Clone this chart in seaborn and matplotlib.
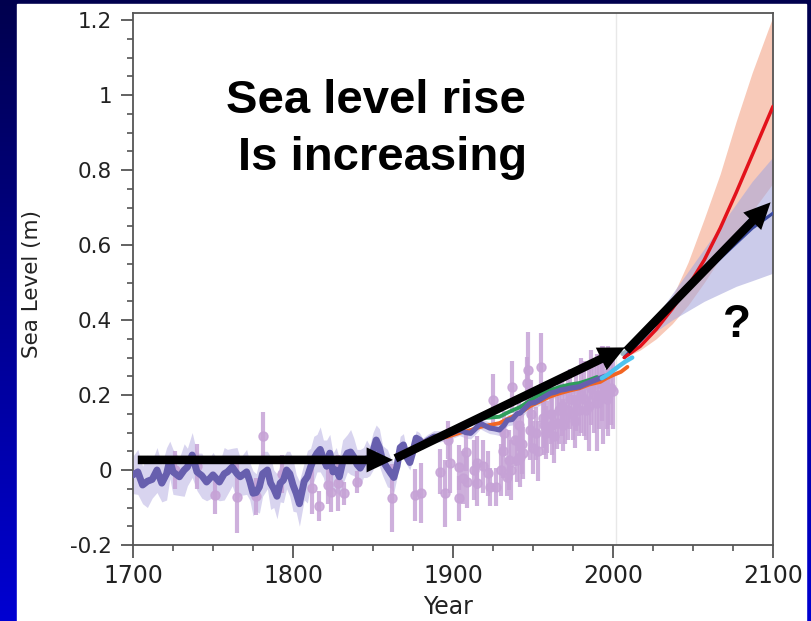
import numpy as np
import pandas as pd
import matplotlib
matplotlib.use("Agg")
import matplotlib.pyplot as plt
import seaborn as sns
from matplotlib.colors import LinearSegmentedColormap
from matplotlib.patches import Rectangle
from matplotlib.ticker import MultipleLocator

# ---------------- data ----------------
recon_years = [1700, 1703, 1706, 1709, 1712, 1715, 1718, 1721, 1723, 1725,
               1729, 1732, 1734, 1737, 1740, 1743, 1746, 1750, 1754, 1757,
               1759, 1762, 1765, 1767, 1771, 1773, 1775, 1777, 1779, 1781,
               1784, 1786, 1788, 1790, 1792, 1794, 1796, 1798, 1800, 1802,
               1804, 1807, 1809, 1811, 1813, 1815, 1817, 1819, 1821, 1823,
               1825, 1827, 1829, 1831, 1834, 1836, 1838, 1840, 1842, 1844,
               1846, 1848, 1850, 1852, 1854, 1856, 1859, 1861, 1863, 1865,
               1867, 1869, 1871, 1873, 1875, 1877, 1879, 1881, 1884, 1888,
               1892, 1896, 1900, 1904, 1908, 1911, 1914, 1917, 1920, 1923,
               1926, 1929, 1932, 1934, 1937, 1940, 1942, 1945, 1948, 1951,
               1954, 1957, 1961, 1964, 1967, 1970, 1973, 1976, 1979, 1982,
               1986, 1989, 1992, 1995]
recon_vals = [-0.013, -0.005, -0.04, -0.03, -0.025, 0.0, -0.035, -0.01, 0.027, -0.005,
              -0.018, 0.0, 0.008, 0.04, -0.005, -0.015, -0.032, -0.013, -0.032, -0.01,
              -0.005, 0.008, -0.01, -0.018, -0.005, -0.03, -0.062, -0.06, -0.045, -0.01,
              0.0, -0.035, -0.05, -0.07, -0.035, -0.027, 0.0, -0.01, -0.04, -0.062,
              -0.09, -0.03, -0.018, 0.008, 0.03, 0.045, 0.055, 0.03, 0.01, 0.045,
              -0.005, 0.0, -0.018, 0.02, 0.045, 0.048, 0.035, 0.015, 0.005, 0.02,
              0.03, 0.025, 0.05, 0.08, 0.06, 0.025, 0.005, -0.008, -0.02, 0.01,
              0.06, 0.067, 0.035, 0.02, 0.05, 0.085, 0.08, 0.07, 0.08, 0.09,
              0.09, 0.095, 0.1, 0.107, 0.1, 0.098, 0.11, 0.125, 0.118, 0.112,
              0.11, 0.107, 0.12, 0.133, 0.135, 0.15, 0.152, 0.165, 0.178, 0.18,
              0.187, 0.195, 0.205, 0.208, 0.213, 0.215, 0.218, 0.22, 0.222, 0.228,
              0.235, 0.24, 0.245, 0.25]
recon_halfwidth = [0.05, 0.06, 0.05, 0.07, 0.05, 0.06, 0.05, 0.07, 0.05, 0.06,
                   0.05, 0.07, 0.05, 0.06, 0.05, 0.06, 0.05, 0.06, 0.05, 0.07,
                   0.06, 0.05, 0.07, 0.05, 0.06, 0.05, 0.06, 0.05, 0.07, 0.06,
                   0.05, 0.07, 0.05, 0.06, 0.05, 0.06, 0.05, 0.06, 0.07, 0.05,
                   0.06, 0.05, 0.07, 0.05, 0.06, 0.05, 0.06, 0.05, 0.07, 0.05,
                   0.05, 0.06, 0.05, 0.06, 0.05, 0.06, 0.05, 0.04, 0.05, 0.04,
                   0.05, 0.04, 0.05, 0.04, 0.05, 0.04, 0.05, 0.04, 0.04, 0.03,
                   0.03, 0.03, 0.02, 0.02, 0.02, 0.02, 0.02, 0.015, 0.015, 0.015,
                   0.015, 0.015, 0.015, 0.015, 0.015, 0.015, 0.015, 0.015, 0.015, 0.015,
                   0.015, 0.015, 0.015, 0.015, 0.015, 0.015, 0.015, 0.015, 0.015, 0.015,
                   0.015, 0.015, 0.015, 0.015, 0.015, 0.015, 0.015, 0.015, 0.015, 0.015,
                   0.015, 0.015, 0.015, 0.015]

orange_years = [1880, 1890, 1896, 1905, 1910, 1917, 1923, 1929, 1935, 1942, 1948,
                1954, 1960, 1967, 1973, 1979, 1985, 1992, 1996, 2000, 2005, 2009]
orange_vals = [0.075, 0.085, 0.088, 0.1, 0.105, 0.115, 0.12, 0.125, 0.138, 0.152, 0.17,
               0.182, 0.195, 0.205, 0.212, 0.218, 0.228, 0.235, 0.245, 0.253, 0.262, 0.275]

green_years = [1900, 1904, 1910, 1917, 1923, 1929, 1935, 1942, 1948, 1954, 1960,
               1967, 1973, 1979, 1985, 1990]
green_vals = [0.105, 0.115, 0.125, 0.138, 0.14, 0.142, 0.155, 0.168, 0.185, 0.2, 0.212,
              0.222, 0.228, 0.232, 0.24, 0.248]

cyan_years = [1993, 1997, 2000, 2004, 2008, 2012]
cyan_vals = [0.245, 0.255, 0.265, 0.278, 0.29, 0.30]

grey_years = [2006, 2012]
grey_vals = [0.31, 0.325]

pts_years = [1726, 1740, 1751, 1765, 1777, 1781, 1793, 1812, 1816, 1822,
             1824, 1828, 1832, 1840, 1862, 1876, 1880, 1892, 1895, 1897,
             1904, 1904, 1908, 1909, 1915, 1915, 1922, 1923, 1925, 1927,
             1930, 1932, 1934, 1935, 1937, 1939, 1940, 1942, 1944, 1946,
             1947, 1948, 1950, 1952, 1955, 1957, 1959, 1961, 1963, 1965,
             1968, 1970, 1972, 1975, 1977, 1979, 1982, 1985, 1988, 1990,
             1994, 1997, 2000,
             1898, 1906, 1913, 1919, 1931, 1936, 1941, 1943, 1949, 1953,
             1956, 1958, 1962, 1966, 1969, 1973, 1976, 1980, 1983, 1986,
             1991, 1993, 1996, 1999]
pts_vals = [0.0, 0.01, -0.067, -0.072, -0.07, 0.09, -0.01, -0.048, -0.095, -0.04,
            -0.058, -0.035, -0.062, -0.032, -0.075, -0.067, -0.062, -0.005, -0.062, 0.08,
            -0.075, 0.008, 0.048, -0.032, 0.02, -0.035, -0.008, -0.045, 0.187, -0.045,
            0.0, 0.098, -0.018, 0.027, 0.222, 0.08, 0.027, 0.035, 0.045, 0.232,
            0.267, 0.107, 0.06, 0.098, 0.275, 0.12, 0.115, 0.15, 0.09, 0.125,
            0.17, 0.14, 0.16, 0.15, 0.185, 0.16, 0.19, 0.17, 0.2, 0.18,
            0.2, 0.21, 0.21,
            0.02, -0.02, 0.0, 0.01, 0.05, 0.0, 0.12, 0.07, 0.15, 0.05,
            0.14, 0.1, 0.12, 0.16, 0.12, 0.19, 0.13, 0.2, 0.16, 0.22,
            0.2, 0.23, 0.19, 0.22]
pts_errs = [0.05, 0.06, 0.05, 0.095, 0.05, 0.065, 0.05, 0.07, 0.04, 0.05,
            0.055, 0.075, 0.03, 0.03, 0.09, 0.07, 0.08, 0.06, 0.09, 0.05,
            0.06, 0.06, 0.05, 0.07, 0.07, 0.06, 0.06, 0.05, 0.07, 0.05,
            0.07, 0.06, 0.05, 0.08, 0.07, 0.07, 0.06, 0.08, 0.07, 0.07,
            0.1, 0.08, 0.07, 0.07, 0.09, 0.08, 0.07, 0.08, 0.07, 0.07,
            0.08, 0.07, 0.08, 0.07, 0.08, 0.07, 0.1, 0.12, 0.1, 0.13,
            0.13, 0.12, 0.1,
            0.08, 0.07, 0.08, 0.07, 0.07, 0.08, 0.07, 0.08, 0.09, 0.08,
            0.08, 0.07, 0.08, 0.09, 0.07, 0.08, 0.07, 0.1, 0.08, 0.1,
            0.09, 0.1, 0.08, 0.1]

proj_years = [2007, 2017, 2027, 2037, 2047, 2057, 2067, 2077, 2087, 2100]
red_mid = [0.30, 0.33, 0.375, 0.43, 0.49, 0.56, 0.645, 0.74, 0.84, 0.97]
red_hi = [0.30, 0.33, 0.385, 0.46, 0.555, 0.67, 0.79, 0.93, 1.06, 1.21]
red_lo = [0.30, 0.32, 0.35, 0.39, 0.44, 0.50, 0.565, 0.63, 0.69, 0.765]
blue_mid = [0.30, 0.345, 0.39, 0.44, 0.485, 0.525, 0.565, 0.605, 0.645, 0.685]
blue_hi = [0.30, 0.355, 0.41, 0.47, 0.53, 0.59, 0.65, 0.71, 0.77, 0.835]
blue_lo = [0.30, 0.335, 0.37, 0.40, 0.425, 0.45, 0.47, 0.49, 0.505, 0.525]

x_ticks = [1700, 1800, 1900, 2000, 2100]
x_ticklabels = ["1700", "1800", "1900", "2000", "2100"]
y_ticks = [-0.2, 0, 0.2, 0.4, 0.6, 0.8, 1, 1.2]
y_ticklabels = ["-0.2", "0", "0.2", "0.4", "0.6", "0.8", "1", "1.2"]

# ---------------- style ----------------
sns.set_style("ticks")
plt.rcParams["font.family"] = ["DejaVu Sans"]
plt.rcParams["axes.unicode_minus"] = False

W, H = 811, 621
fig = plt.figure(figsize=(W / 100, H / 100), dpi=100)

# background frame (blue vertical gradient + white slide area)
bg = fig.add_axes([0, 0, 1, 1], zorder=-10)
cmap = LinearSegmentedColormap.from_list("bgblue", ["#00004e", "#0000d2"])
grad = np.linspace(0, 1, 256).reshape(-1, 1)
bg.imshow(grad, aspect="auto", cmap=cmap, extent=[0, 1, 0, 1], origin="upper")
bg.add_patch(Rectangle((17 / W, 0), (806 - 17) / W, (H - 4) / H,
                       transform=bg.transAxes, color="white", zorder=2))
bg.set_xlim(0, 1)
bg.set_ylim(0, 1)
bg.axis("off")

ax = fig.add_axes([133 / W, 76 / H, 640 / W, 532 / H], zorder=1)
ax.set_facecolor("white")

# vertical guide
ax.axvline(2002, color="#e8e8e8", lw=1.0, zorder=0.5)

# reconstruction uncertainty band
rv = np.array(recon_vals)
rh = np.array(recon_halfwidth)
ax.fill_between(recon_years, rv - rh, rv + rh, color="#d8d4ef", lw=0, zorder=1)

# projection bands
ax.fill_between(proj_years, red_lo, red_hi, color="#f6b7a0", alpha=0.75, lw=0, zorder=1.1)
ax.fill_between(proj_years, blue_lo, blue_hi, color="#a9a9dc", alpha=0.6, lw=0, zorder=1.2)

# tide gauge points with error bars
ax.errorbar(pts_years, pts_vals, yerr=pts_errs, fmt="o", color="#c6a2d6",
            ms=6.5, elinewidth=3.0, capsize=0, alpha=0.85, zorder=2)

# lines
n_early = recon_years.index(1881) + 1
sns.lineplot(x=orange_years, y=orange_vals, ax=ax, color="#f26522", lw=2.8, zorder=3)
sns.lineplot(x=green_years, y=green_vals, ax=ax, color="#2e9e5b", lw=2.8, zorder=3.1)
sns.lineplot(x=recon_years[:n_early], y=recon_vals[:n_early], ax=ax,
             color="#675fae", lw=5.0, zorder=3.2)
sns.lineplot(x=recon_years[n_early - 1:], y=recon_vals[n_early - 1:], ax=ax,
             color="#675fae", lw=3.8, zorder=3.2)
sns.lineplot(x=cyan_years, y=cyan_vals, ax=ax, color="#4ec3ef", lw=3.2, zorder=3.3)
sns.lineplot(x=grey_years, y=grey_vals, ax=ax, color="#9ab4c2", lw=3.2, zorder=3.3)
sns.lineplot(x=proj_years, y=blue_mid, ax=ax, color="#3b4a9e", lw=2.3, zorder=3.4)
sns.lineplot(x=proj_years, y=red_mid, ax=ax, color="#e3121b", lw=2.5, zorder=3.5)

# annotation arrows
arrow_style = "simple,head_length=1.9,head_width=1.8,tail_width=0.62"
for start, tip in [((1703, 0.027), (1862.5, 0.027)),
                   ((1864, 0.031), (2007.5, 0.327)),
                   ((2008.5, 0.318), (2098.5, 0.714))]:
    ax.annotate("", xy=tip, xytext=start,
                arrowprops=dict(arrowstyle=arrow_style, color="black", lw=0,
                                mutation_scale=10, shrinkA=0, shrinkB=0),
                zorder=6)

# slide text
bold_family = ["Liberation Sans", "DejaVu Sans"]
ax.text(1852, 0.952, "Sea level rise", ha="center", va="baseline", fontsize=34,
        fontweight="bold", family=bold_family, color="black", zorder=7)
ax.text(1856, 0.80, "Is increasing", ha="center", va="baseline", fontsize=34,
        fontweight="bold", family=bold_family, color="black", zorder=7)
ax.text(2077.5, 0.355, "?", ha="center", va="baseline", fontsize=33,
        fontweight="bold", family=bold_family, color="black", zorder=7)

# axes formatting
ax.set_xlim(1700, 2100)
ax.set_ylim(-0.2, 1.219)
ax.set_xticks(x_ticks)
ax.set_xticklabels(x_ticklabels, fontsize=17, color="#222222")
ax.set_yticks(y_ticks)
ax.set_yticklabels(y_ticklabels, fontsize=15.5, color="#222222")
ax.xaxis.set_minor_locator(MultipleLocator(25))
ax.yaxis.set_minor_locator(MultipleLocator(0.05))
ax.tick_params(which="major", direction="out", length=9, width=1.3, color="#555555")
ax.tick_params(axis="x", which="major", pad=5)
ax.tick_params(axis="y", which="major", pad=6)
ax.tick_params(which="minor", direction="out", length=4.5, width=1.2, color="#555555")
for s in ax.spines.values():
    s.set_visible(True)
    s.set_color("#555555")
    s.set_linewidth(1.3)

ax.set_xlabel("Year", fontsize=17, color="#222222")
ax.xaxis.label.set_verticalalignment("center")
ax.xaxis.set_label_coords(0.492, -0.1165)
ax.set_ylabel("Sea Level (m)", fontsize=15.5, color="#222222")
ax.yaxis.label.set_rotation_mode("default")
ax.yaxis.label.set_verticalalignment("center")
ax.yaxis.label.set_horizontalalignment("center")
ax.yaxis.set_label_coords(-0.158, 0.49)

fig.savefig("out.png", dpi=100)
